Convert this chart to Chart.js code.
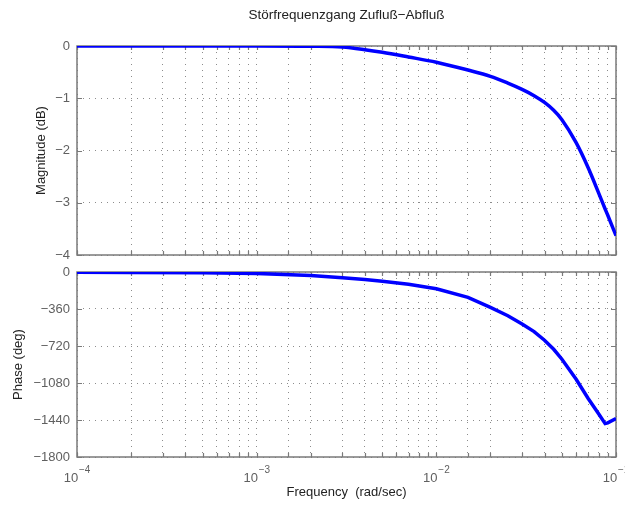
<!DOCTYPE html>
<html>
<head>
<meta charset="utf-8">
<script src="https://cdn.jsdelivr.net/npm/chart.js@4.4.1/dist/chart.umd.min.js"></script>
<style>
  html, body { margin: 0; padding: 0; background: #fff; }
  #wrap { position: relative; width: 625px; height: 505px; overflow: hidden; }
  #c1 { position: absolute; left: 0; top: 0; }
  #c2 { position: absolute; left: 0; top: 262px; }
</style>
</head>
<body>
<div id="wrap">
  <canvas id="c1" width="625" height="262"></canvas>
  <canvas id="c2" width="625" height="243"></canvas>
</div>
<script>
// ---- data ----
const chartTitle = 'Störfrequenzgang Zufluß\u2212Abfluß';
const frequency = [1e-4, 2e-4, 5e-4, 1e-3, 2e-3, 3e-3, 4e-3, 5e-3, 7e-3, 1e-2, 1.5e-2, 2e-2, 2.5e-2, 3e-2, 3.5e-2, 4e-2, 4.5e-2, 5e-2, 6e-2, 7e-2, 8e-2, 8.7e-2, 9e-2, 1e-1];
const magnitudeDb = [0, 0, 0, 0, -0.005, -0.02, -0.07, -0.12, -0.21, -0.31, -0.46, -0.58, -0.71, -0.83, -0.95, -1.08, -1.23, -1.41, -1.85, -2.33, -2.81, -3.12, -3.24, -3.63];
const phaseDeg = [-3, -5, -8, -14, -35, -55, -72, -90, -120, -163, -247, -345, -425, -505, -580, -664, -752, -849, -1044, -1230, -1379, -1475, -1468, -1425];
const magTicks = [0, -1, -2, -3, -4];
const phaseTicks = [0, -360, -720, -1080, -1440, -1800];

const FONT = 'Liberation Sans, Arial, Helvetica, sans-serif';
function isDecade(v) { const e = Math.log10(v); return Math.abs(e - Math.round(e)) < 1e-6; }
function minusLabel(v) { return v < 0 ? '\u2212' + Math.abs(v) : String(v); }

const frame = {
  id: 'frame',
  beforeDatasetsDraw(chart) {
    const {ctx, chartArea: a, scales} = chart;
    ctx.save();
    ctx.strokeStyle = '#7a7a7a';
    ctx.lineWidth = 1.2;
    ctx.beginPath();
    scales.x.ticks.forEach(t => {
      const px = Math.round(scales.x.getPixelForValue(t.value)) + 0.5;
      ctx.moveTo(px, a.bottom); ctx.lineTo(px, a.bottom - 4);
      ctx.moveTo(px, a.top); ctx.lineTo(px, a.top + 4);
    });
    scales.y.ticks.forEach(t => {
      const py = Math.round(scales.y.getPixelForValue(t.value)) + 0.5;
      ctx.moveTo(a.left, py); ctx.lineTo(a.left + 5, py);
      ctx.moveTo(a.right, py); ctx.lineTo(a.right - 5, py);
    });
    ctx.stroke();
    ctx.lineWidth = 1.5;
    ctx.strokeRect(a.left, a.top, a.right - a.left, a.bottom - a.top);
    ctx.restore();
  },
  afterDraw(chart, args, opts) {
    if (!opts.exponents) return;
    const {ctx, chartArea: a, scales} = chart;
    ctx.save();
    ctx.fillStyle = '#606060';
    ctx.font = '10px ' + FONT;
    ctx.textBaseline = 'alphabetic';
    ctx.textAlign = 'left';
    scales.x.ticks.forEach(t => {
      if (!isDecade(t.value)) return;
      const e = Math.round(Math.log10(t.value));
      const px = scales.x.getPixelForValue(t.value);
      ctx.fillText((e < 0 ? '\u2212' : '') + Math.abs(e), px + 2, a.bottom + 16);
    });
    ctx.restore();
  }
};

function pts(ys) { return frequency.map((f, i) => ({x: f, y: ys[i]})); }

function xScale(bottom) {
  return {
    type: 'logarithmic',
    position: bottom ? 'bottom' : 'top',
    min: 1e-4, max: 1e-1,
    afterBuildTicks(s) {
      s.ticks = s.ticks.filter(t => t.value >= 1e-4 * 0.999 && t.value <= 1e-1 * 1.001);
    },
    ticks: {
      display: bottom,
      autoSkip: false,
      maxRotation: 0,
      padding: 13.5,
      labelOffset: -6,
      color: '#606060',
      font: {family: FONT, size: 13},
      callback: v => isDecade(v) ? '10' : ''
    },
    grid: { color: '#8c8c8c', lineWidth: 1, drawTicks: false },
    border: { display: false, dash: [1, 5] },
    title: bottom ? {
      display: true, text: 'Frequency  (rad/sec)', color: '#222',
      font: {family: FONT, size: 13}, padding: {top: 0, bottom: 4.7}
    } : {
      display: true, text: chartTitle, color: '#222',
      font: {family: FONT, size: 13.5}, padding: {top: 7, bottom: 0}
    },
    afterFit(s) { s.height = bottom ? 48 : 46; s.paddingLeft = 0; s.paddingRight = 0; }
  };
}

function yScale(min, max, label, ticksArr, titlePad) {
  return {
    type: 'linear',
    min: min, max: max,
    afterBuildTicks(s) { s.ticks = ticksArr.map(v => ({value: v})); },
    ticks: {
      padding: 7,
      color: '#606060',
      font: {family: FONT, size: 13},
      callback: minusLabel
    },
    grid: { color: '#8c8c8c', lineWidth: 1, drawTicks: false },
    border: { display: false, dash: [1, 5] },
    title: {
      display: true, text: label, color: '#222',
      font: {family: FONT, size: 13}, padding: {top: titlePad, bottom: 0}
    },
    afterFit(s) { s.width = 77; s.paddingTop = 0; s.paddingBottom = 0; }
  };
}

const lineStyle = { borderColor: '#0000ff', borderWidth: 3.5, pointRadius: 0, fill: false };

new Chart(document.getElementById('c1'), {
  type: 'line',
  data: { datasets: [Object.assign({ data: pts(magnitudeDb), cubicInterpolationMode: 'monotone' }, lineStyle)] },
  options: {
    responsive: false, animation: false,
    layout: { padding: { left: 0, right: 9, top: 0, bottom: 7 } },
    plugins: { legend: { display: false }, tooltip: { enabled: false }, frame: { exponents: false } },
    scales: { x: xScale(false), y: yScale(-4, 0, 'Magnitude (dB)', magTicks, 33.7) }
  },
  plugins: [frame]
});

new Chart(document.getElementById('c2'), {
  type: 'line',
  data: { datasets: [Object.assign({ data: pts(phaseDeg), tension: 0 }, lineStyle)] },
  options: {
    responsive: false, animation: false,
    layout: { padding: { left: 0, right: 9, top: 10, bottom: 0 } },
    plugins: { legend: { display: false }, tooltip: { enabled: false }, frame: { exponents: true } },
    scales: { x: xScale(true), y: yScale(-1800, 0, 'Phase (deg)', phaseTicks, 10.7) }
  },
  plugins: [frame]
});
</script>
</body>
</html>
